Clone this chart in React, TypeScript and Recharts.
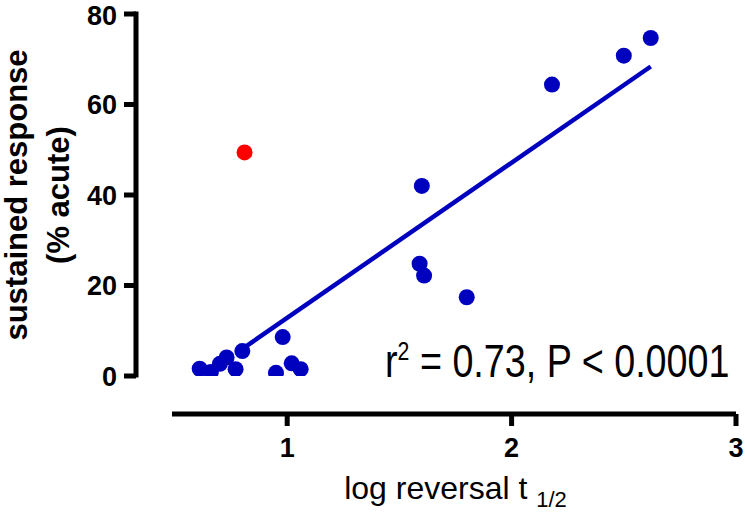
import React from 'react';
import { ScatterChart, Scatter, XAxis, YAxis } from 'recharts';

// values
const blueX = [0.61, 0.66, 0.7, 0.73, 0.77, 0.8, 0.95, 0.98, 1.02, 1.06, 1.59, 1.61, 1.8, 1.6, 2.18, 2.5, 2.62];
const blueY = [1.6, 0.9, 2.7, 4.1, 1.5, 5.5, 0.7, 8.6, 2.8, 1.5, 24.8, 22.2, 17.4, 42.0, 64.4, 70.8, 74.7];
const outlierX = [0.81];
const outlierY = [49.4];
const fitX = [0.8, 2.62];
const fitY = [6.0, 68.4];
const xTicks = [1, 2, 3];
const yTicks = [0, 20, 40, 60, 80];

const BLUE = '#0000BF';
const RED = '#FF0000';
const FONT = "'Liberation Sans', Arial, sans-serif";

const W = 747;
const H = 513;
const X_PAD = 39;
const Y_PAD = 38;
const Y_TITLE_CENTER = 195;

const toPoints = (xs: number[], ys: number[]) => xs.map((x, i) => ({ x, y: ys[i] }));

const blueData = toPoints(blueX, blueY);
const redData = toPoints(outlierX, outlierY);
const fitData = toPoints(fitX, fitY);

const dot = (color: string) => (props: any) => (
    <circle cx={props.cx} cy={props.cy} r={8} fill={color} />
);

const tickStyle = { fill: '#000', fontSize: 27, fontWeight: 'bold', fontFamily: FONT };

const XTitle = (props: any) => {
    const { viewBox } = props;
    const cx = viewBox.x + X_PAD + (viewBox.width - X_PAD) / 2;
    return (
        <text x={cx} y={viewBox.y + 85} textAnchor="middle" fontFamily={FONT} fontSize={32} fill="#000">
            {'log reversal t '}
            <tspan fontSize={22} dy={8}>1/2</tspan>
        </text>
    );
};

const YTitle = () => (
    <text
        transform={`translate(0,${Y_TITLE_CENTER}) rotate(-90)`}
        textAnchor="middle"
        fontFamily={FONT}
        fontWeight="bold"
        fontSize={31}
        fill="#000"
    >
        <tspan x={0} y={27}>sustained response</tspan>
        <tspan x={0} y={69}>(% acute)</tspan>
    </text>
);

export default function App() {
    return (
        <div style={{ position: 'absolute', left: 0, top: 0, width: W, height: H, background: '#fff' }}>
            <ScatterChart width={W} height={H} margin={{ top: 14, right: 11, bottom: 0, left: 0 }}>
                <XAxis
                    type="number"
                    dataKey="x"
                    domain={[0.5, 3]}
                    ticks={xTicks}
                    allowDataOverflow
                    height={99}
                    padding={{ left: X_PAD, right: 0 }}
                    axisLine={{ stroke: '#000', strokeWidth: 5, strokeDasharray: `0 ${X_PAD - 3} 2000` }}
                    tickLine={{ stroke: '#000', strokeWidth: 5 }}
                    tickSize={12}
                    tickMargin={12}
                    tick={tickStyle}
                    label={<XTitle />}
                />
                <YAxis
                    type="number"
                    dataKey="y"
                    domain={[0, 80]}
                    ticks={yTicks}
                    allowDataOverflow
                    width={136}
                    padding={{ top: 0, bottom: Y_PAD }}
                    axisLine={{ stroke: '#000', strokeWidth: 5, strokeLinecap: 'square', strokeDasharray: '361 2000' }}
                    tickLine={{ stroke: '#000', strokeWidth: 5 }}
                    tickSize={12}
                    tickMargin={7}
                    tick={tickStyle}
                    label={<YTitle />}
                />
                <Scatter data={redData} shape={dot(RED)} isAnimationActive={false} />
                <Scatter
                    data={fitData}
                    line={{ stroke: BLUE, strokeWidth: 4.5 }}
                    shape={() => <g />}
                    isAnimationActive={false}
                />
                <Scatter data={blueData} shape={dot(BLUE)} isAnimationActive={false} />
            </ScatterChart>
            <svg width={W} height={H} style={{ position: 'absolute', left: 0, top: 0, pointerEvents: 'none' }}>
                <text transform="translate(385,377) scale(0.82,1)" fontFamily={FONT} fontSize={46} fill="#000">
                    r<tspan fontSize={26} dy={-17}>2</tspan>
                    <tspan dy={17}> = 0.73, P &lt; 0.0001</tspan>
                </text>
            </svg>
        </div>
    );
}
